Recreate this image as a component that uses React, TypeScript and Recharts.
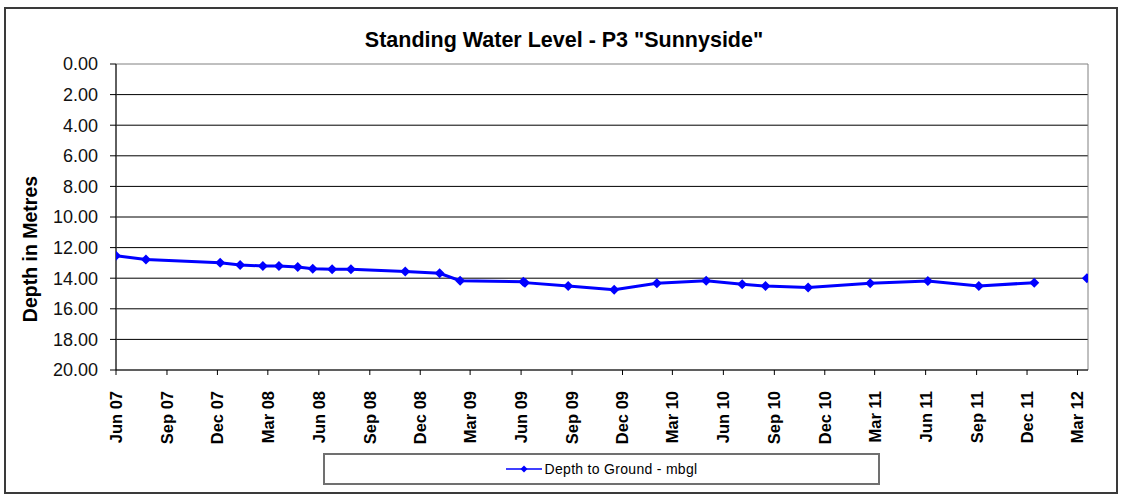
import React from "react";
import { CartesianGrid, Legend, Line, LineChart, ReferenceArea, XAxis, YAxis } from "recharts";

// reading dates (no reading taken in Feb 12, so the line breaks there)
const readingDates = [
  "2007-06-01", "2007-07-25", "2007-12-06", "2008-01-11", "2008-02-21", "2008-03-21",
  "2008-04-24", "2008-05-21", "2008-06-25", "2008-07-29", "2008-11-04", "2009-01-05",
  "2009-02-11", "2009-06-05", "2009-06-08", "2009-08-25", "2009-11-16", "2010-02-01",
  "2010-05-01", "2010-07-05", "2010-08-16", "2010-11-01", "2011-02-21", "2011-06-05",
  "2011-09-05", "2011-12-14", "2012-02-01", "2012-03-18",
];
const depthToGround: (number | null)[] = [
  12.53, 12.77, 12.99, 13.14, 13.2, 13.2,
  13.27, 13.38, 13.42, 13.42, 13.57, 13.68,
  14.16, 14.23, 14.29, 14.51, 14.75, 14.33,
  14.16, 14.4, 14.51, 14.6, 14.33, 14.18,
  14.51, 14.29, null, 14.0,
];
const quarterTicks = [
  "2007-06-01", "2007-09-01", "2007-12-01", "2008-03-01", "2008-06-01", "2008-09-01",
  "2008-12-01", "2009-03-01", "2009-06-01", "2009-09-01", "2009-12-01", "2010-03-01",
  "2010-06-01", "2010-09-01", "2010-12-01", "2011-03-01", "2011-06-01", "2011-09-01",
  "2011-12-01", "2012-03-01",
];
const depthTicks = [0, 2, 4, 6, 8, 10, 12, 14, 16, 18, 20];
const innerGridValues = [2, 4, 6, 8, 10, 12, 14, 16, 18];
const dateRange = ["2007-06-01", "2012-03-20"];
const monthNames = ["Jan", "Feb", "Mar", "Apr", "May", "Jun", "Jul", "Aug", "Sep", "Oct", "Nov", "Dec"];

const toMs = (s: string) => Date.parse(s + "T00:00:00Z");

const data = readingDates.map((d, i) => ({ t: toMs(d), depth: depthToGround[i] }));

const FONT = "'Liberation Sans', Arial, Helvetica, sans-serif";
const BLUE = "#0000ff";

function DiamondDot(props: any) {
  const { cx, cy, value } = props;
  if (cx == null || cy == null || value == null) return null;
  const r = 5;
  return <path d={`M${cx},${cy - r}L${cx + r},${cy}L${cx},${cy + r}L${cx - r},${cy}Z`} fill={BLUE} />;
}

function QuarterTick(props: any) {
  const { x, y, payload } = props;
  const d = new Date(payload.value);
  const label = `${monthNames[d.getUTCMonth()]} ${String(d.getUTCFullYear()).slice(2)}`;
  return (
    <g transform={`translate(${x},${y})`}>
      <text transform="rotate(-90)" x={-2} y={0} dy="0.36em" textAnchor="end" fontFamily={FONT} fontSize={16.5} fontWeight="bold" fill="#000">
        {label}
      </text>
    </g>
  );
}

const yTitle = () => (
  <text x={30} y={249} transform="rotate(-90 30 249)" textAnchor="middle" dominantBaseline="central" fontFamily={FONT} fontSize={19.5} fontWeight="bold" fill="#000">
    Depth in Metres
  </text>
);

function LegendBox() {
  return (
    <div style={{ width: "100%", height: "100%", boxSizing: "border-box", border: "2px solid #707070", display: "flex", alignItems: "center", justifyContent: "center", background: "#fff" }}>
      <svg width={36} height={12}>
        <line x1={0} y1={6} x2={36} y2={6} stroke={BLUE} strokeWidth={1.5} />
        <path d="M18,2.5L21.5,6L18,9.5L14.5,6Z" fill={BLUE} />
      </svg>
      <span style={{ fontFamily: FONT, fontSize: 14, color: "#000", marginLeft: 3, letterSpacing: 0.3 }}>Depth to Ground - mbgl</span>
    </div>
  );
}

export default function App() {
  return (
    <div style={{ position: "absolute", left: 0, top: 0, width: 1122, height: 498, background: "#fff", fontFamily: FONT }}>
      <div style={{ position: "absolute", left: 4, top: 7, width: 1114, height: 487, boxSizing: "border-box", border: "2px solid #3a3a3a" }} />
      <div style={{ position: "absolute", left: 0, top: 30, width: 1128, textAlign: "center", fontSize: 21.5, fontWeight: "bold", lineHeight: "21px", color: "#000" }}>
        Standing Water Level - P3 "Sunnyside"
      </div>
      <div style={{ position: "absolute", left: 0, top: 0 }}>
        <LineChart width={1122} height={498} data={data} margin={{ top: 64, right: 34, left: 0, bottom: 0 }}>
          <CartesianGrid vertical={false} stroke="#000" strokeOpacity={1} horizontalValues={innerGridValues} />
          <ReferenceArea y1={0} y2={20} fill="none" stroke="#808080" strokeWidth={1} />
          <XAxis
            dataKey="t"
            type="number"
            domain={dateRange.map(toMs)}
            ticks={quarterTicks.map(toMs)}
            interval={0}
            height={128}
            tickSize={5}
            tickMargin={14}
            axisLine={{ stroke: "#000" }}
            tickLine={{ stroke: "#000" }}
            tick={<QuarterTick />}
            allowDataOverflow
          />
          <YAxis
            reversed
            type="number"
            domain={[0, 20]}
            ticks={depthTicks}
            interval={0}
            width={116}
            tickSize={6}
            tickMargin={12}
            tickFormatter={(v: number) => v.toFixed(2)}
            tick={{ fontSize: 18, fill: "#111", fontFamily: FONT }}
            axisLine={{ stroke: "#000" }}
            tickLine={{ stroke: "#000" }}
            label={yTitle}
          />
          <Legend
            layout="horizontal"
            verticalAlign="middle"
            align="center"
            wrapperStyle={{ left: 323, top: 453, width: 557, height: 32 }}
            content={<LegendBox />}
          />
          <Line
            dataKey="depth"
            name="Depth to Ground - mbgl"
            stroke={BLUE}
            strokeWidth={3}
            dot={<DiamondDot />}
            activeDot={false}
            connectNulls={false}
            isAnimationActive={false}
          />
        </LineChart>
      </div>
    </div>
  );
}
